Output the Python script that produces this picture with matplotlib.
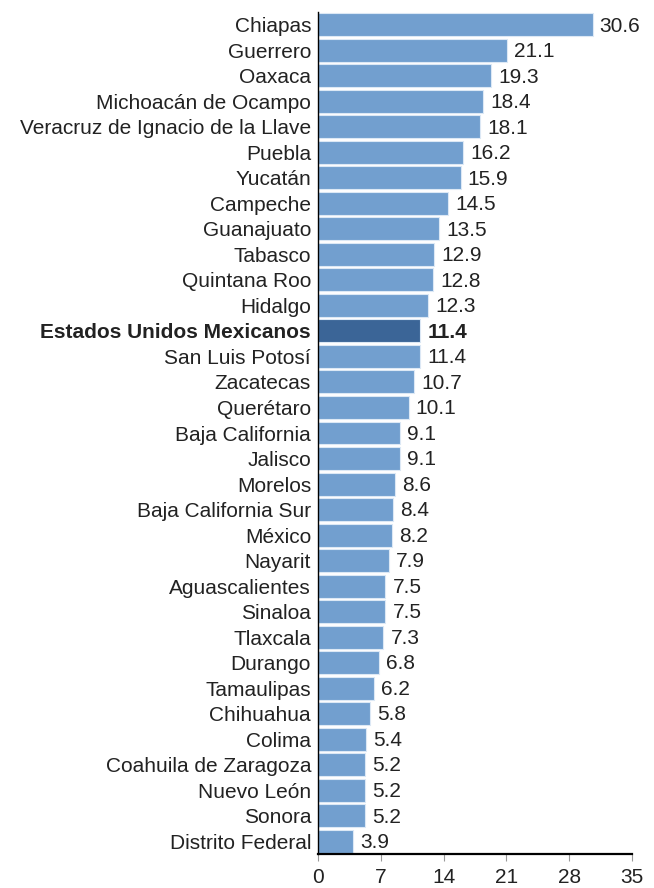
import matplotlib

matplotlib.use("Agg")
import matplotlib.pyplot as plt

STATES = [
    "Chiapas", "Guerrero", "Oaxaca", "Michoacán de Ocampo",
    "Veracruz de Ignacio de la Llave", "Puebla", "Yucatán", "Campeche",
    "Guanajuato", "Tabasco", "Quintana Roo", "Hidalgo",
    "Estados Unidos Mexicanos", "San Luis Potosí", "Zacatecas", "Querétaro",
    "Baja California", "Jalisco", "Morelos", "Baja California Sur",
    "México", "Nayarit", "Aguascalientes", "Sinaloa", "Tlaxcala",
    "Durango", "Tamaulipas", "Chihuahua", "Colima", "Coahuila de Zaragoza",
    "Nuevo León", "Sonora", "Distrito Federal",
]
VALUES = [
    30.6, 21.1, 19.3, 18.4, 18.1, 16.2, 15.9, 14.5, 13.5, 12.9, 12.8, 12.3,
    11.4, 11.4, 10.7, 10.1, 9.1, 9.1, 8.6, 8.4, 8.2, 7.9, 7.5, 7.5, 7.3,
    6.8, 6.2, 5.8, 5.4, 5.2, 5.2, 5.2, 3.9,
]
HIGHLIGHT = "Estados Unidos Mexicanos"
X_TICKS = [0, 7, 14, 21, 28, 35]

plt.rcParams["font.family"] = ["Liberation Sans", "DejaVu Sans"]

BAR_COLOR = "#729fcf"
HIGHLIGHT_COLOR = "#3b6597"
TEXT_COLOR = "#222222"
FONT_SIZE = 15

fig = plt.figure(figsize=(6.54, 8.88), dpi=100)
ax = fig.add_axes([318 / 654, 34 / 888, 314 / 654, 842 / 888])

positions = list(range(len(STATES)))
colors = [HIGHLIGHT_COLOR if s == HIGHLIGHT else BAR_COLOR for s in STATES]
ax.barh(positions, VALUES, height=0.9, color=colors, edgecolor="#dce8f5", linewidth=0.8)

for pos, state, value in zip(positions, STATES, VALUES):
    bold = state == HIGHLIGHT
    ax.text(value + 0.8, pos + 0.05, f"{value:.1f}", va="center", ha="left",
            fontsize=FONT_SIZE, color=TEXT_COLOR, fontweight="bold" if bold else "normal")

ax.set_yticks(positions)
ax.set_yticklabels(STATES, fontsize=FONT_SIZE, color=TEXT_COLOR)
for label in ax.get_yticklabels():
    if label.get_text() == HIGHLIGHT:
        label.set_fontweight("bold")
ax.tick_params(axis="y", length=0, pad=5)

ax.set_xticks(X_TICKS)
ax.set_xticklabels([str(t) for t in X_TICKS], fontsize=FONT_SIZE, color=TEXT_COLOR)
ax.tick_params(axis="x", length=5, color="#999999", pad=5)

ax.set_xlim(0, 35)
ax.set_ylim(len(STATES) - 0.5, -0.5)

for side in ["top", "right"]:
    ax.spines[side].set_visible(False)
ax.spines["left"].set_color("black")
ax.spines["left"].set_linewidth(1.0)
ax.spines["bottom"].set_color("black")
ax.spines["bottom"].set_linewidth(1.6)

fig.savefig("out.png", dpi=100)
